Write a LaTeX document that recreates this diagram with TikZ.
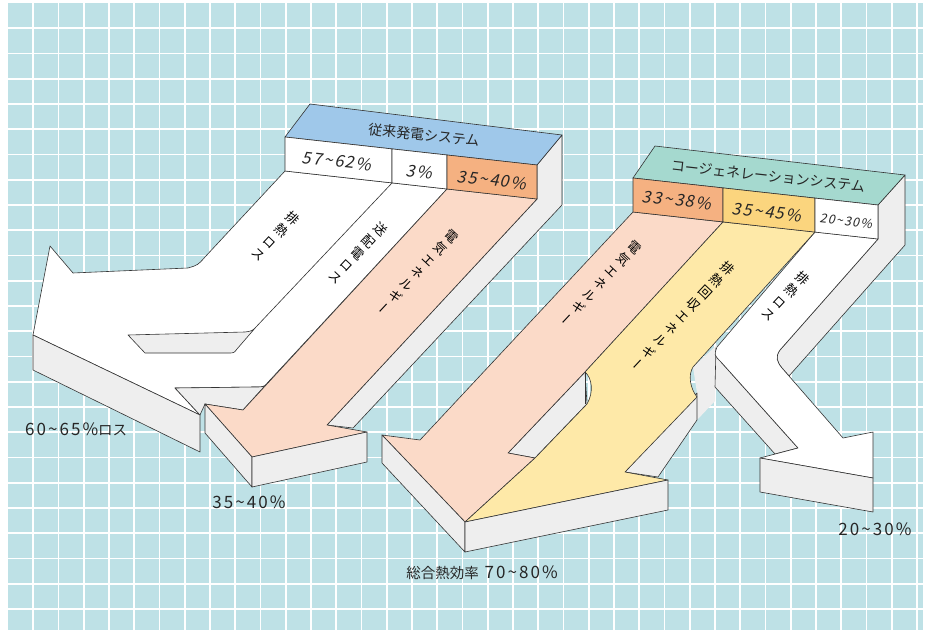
\documentclass[tikz,border=0pt]{standalone}
\usepackage{fontspec}
\setmainfont{Noto Sans CJK JP}
\newfontfamily\jp{Noto Sans CJK JP}
\newfontfamily\jpv[RawFeature=+vert]{Noto Sans CJK JP}
\newfontfamily\jpit[FakeSlant=0.2,LetterSpace=10]{Noto Sans CJK JP}
\newfontfamily\numf[LetterSpace=12]{Noto Sans CJK JP}
\newcommand\cjkpart[1]{{\jp\fontsize{14.5}{14.5}\selectfont #1}}
\definecolor{bg}{HTML}{BEE1E6}
\definecolor{gface}{HTML}{EEEEEE}
\definecolor{peach}{HTML}{FBDAC8}
\definecolor{obox}{HTML}{F5B181}
\definecolor{ystrip}{HTML}{FEE9A8}
\definecolor{ybox}{HTML}{FBD57E}
\definecolor{bluehd}{HTML}{9FC8EA}
\definecolor{tealhd}{HTML}{A5D9CF}
\definecolor{edge}{HTML}{333333}
\tikzset{
  gridline/.style={white,line width=1.6pt},
  face/.style={draw=edge,line width=0.6pt,line join=round},
  grayf/.style={face,fill=gface},
  whitef/.style={face,fill=white},
  peachf/.style={face,fill=peach},
  yellowf/.style={face,fill=ystrip},
  boxlbl/.style={font=\jpit\fontsize{16.5}{16.5}\selectfont,rotate=-6.3,inner sep=0pt,text=black!85},
  title/.style={font=\jp\fontsize{14}{14}\selectfont,rotate=-6.3,inner sep=0pt,text=black!85},
  colm/.style={font=\jpv\fontsize{13}{16.5}\selectfont,align=center,rotate=-43,inner sep=0pt,text=black},
  outl/.style={font=\numf\fontsize{17}{17}\selectfont,inner sep=0pt,text=black!85}
}
\begin{document}
\begin{tikzpicture}[x=1pt,y=-1pt]
\useasboundingbox (0,0) rectangle (927,632);
\fill[white] (0,0) rectangle (927,632);
\fill[bg] (8,3) rectangle (923,630);
\foreach \i in {1,...,36} \draw[gridline] ({8+25.25*\i},3) -- ({8+25.25*\i},630);
\foreach \j in {1,...,24} \draw[gridline] (8,{3+25.25*\j}) -- (923,{3+25.25*\j});

% ---------------- left system ----------------
\filldraw[grayf] (537,165) -- (562,135) -- (562,205) -- (353,428) -- (327,425) -- (537,199) -- cycle;
\filldraw[whitef] (285,171) -- (205,257) .. controls (198,265) .. (188,268) -- (73,273) -- (50,246) -- (33,335) -- (200,415) -- (175,388) -- (255,387) .. controls (265,387) .. (271,379) -- (447,189) -- cycle;
\filldraw[grayf] (175,388) -- (255,387) .. controls (265,387) .. (271,379) -- (243,410) -- (205,404) -- (200,415) -- cycle;
\filldraw[grayf] (33,335) -- (200,415) -- (200,452) -- (33,370) -- cycle;
\filldraw[grayf] (128,335) -- (245,332) .. controls (252,331) .. (256,327) -- (237,349) .. controls (234,353) .. (228,353) -- (145,353) -- cycle;
\draw[face] (392,183) -- (256,327);
\filldraw[peachf] (447,189) -- (537,199) -- (327,425) -- (367,432) -- (252,457) -- (205,404) -- (243,410) -- cycle;
\filldraw[grayf] (205,404) -- (252,457) -- (252,487) -- (205,433) -- cycle;
\filldraw[grayf] (252,457) -- (367,432) -- (367,462) -- (252,487) -- cycle;
% header
\filldraw[face,fill=bluehd] (285,137) -- (310,104) -- (562,135) -- (537,165) -- cycle;
\filldraw[whitef] (285,137) -- (392,148.9) -- (392,182.9) -- (285,171) -- cycle;
\filldraw[whitef] (392,148.9) -- (447,155) -- (447,189) -- (392,182.9) -- cycle;
\filldraw[face,fill=obox] (447,155) -- (537,165) -- (537,199) -- (447,189) -- cycle;
\node[title] (t1) at (424,135) {従来発電システム};
\node[boxlbl] (b1) at (337,161) {57\textasciitilde62\%};
\node[boxlbl] (b2) at (419,172) {3\%};
\node[boxlbl] (b3) at (492,180) {35\textasciitilde40\%};
\node[colm] (s1) at (276,236) {排\\熱\\ロ\\ス};
\node[colm] (s2) at (358,253) {送\\配\\電\\ロ\\ス};
\node[colm] (s3) at (418,272) {電\\気\\エ\\ネ\\ル\\ギ\\ー};

% ---------------- right system ----------------
\filldraw[grayf] (878,205) -- (905,175) -- (905,245) -- (789,376) -- (782,368) .. controls (777,362) and (775,357) .. (780,350) -- (878,239) -- cycle;
\fill[gface] (717,345) -- (693,367) -- (697,393) -- (697,420) -- (715,401) -- (715,387) -- cycle;
\filldraw[grayf] (716,348) -- (715,387) -- (775,454) -- (798,448) -- (721,362) -- cycle;
\filldraw[whitef] (815,232) -- (878,239) -- (780,350) .. controls (775,357) and (777,362) .. (782,368) -- (843,438) -- (873,432) -- (873,478) -- (760,458) -- (798,448) -- (721,362) .. controls (714,355) .. (717,347) -- cycle;
\filldraw[grayf] (760,458) -- (873,478) -- (873,512) -- (760,492) -- cycle;
\filldraw[grayf] (697,393) -- (697,420) -- (658,477) -- (625,472) -- cycle;
\filldraw[grayf] (585,372) -- (587,404) -- (535,458) -- (508,453) -- cycle;
\filldraw[peachf] (633,212) -- (723,222) -- (585,372) -- (508,453) -- (535,458) -- (465,522) -- (382,435) -- (420,440) -- cycle;
\filldraw[yellowf] (723,222) -- (585,372) .. controls (592,378) and (594,392) .. (587,404) -- (535,458) -- (465,522) -- (668,480) -- (625,472) -- (697,397) .. controls (690,388) and (688,375) .. (693,367) -- (815,232) -- cycle;
\draw[face] (585,372) -- (585,404);
\filldraw[grayf] (382,435) -- (465,522) -- (465,552) -- (382,463) -- cycle;
\filldraw[grayf] (465,522) -- (668,480) -- (668,510) -- (465,552) -- cycle;
% header
\filldraw[face,fill=tealhd] (633,178) -- (655,146) -- (905,175) -- (878,205) -- cycle;
\filldraw[face,fill=obox] (633,178) -- (723,187.9) -- (723,221.9) -- (633,212) -- cycle;
\filldraw[face,fill=ybox] (723,187.9) -- (815,198.1) -- (815,232.1) -- (723,221.9) -- cycle;
\filldraw[whitef] (815,198.1) -- (878,205) -- (878,239) -- (815,232.1) -- cycle;
\node[title] (t2) at (768,176) {コージェネレーションシステム};
\node[boxlbl] (b4) at (677,200) {33\textasciitilde38\%};
\node[boxlbl] (b5) at (767,212) {35\textasciitilde45\%};
\node[boxlbl,font=\jpit\fontsize{12.5}{12.5}\selectfont] (b6) at (846,221) {20\textasciitilde30\%};
\node[colm] (s4) at (601,283) {電\\気\\エ\\ネ\\ル\\ギ\\ー};
\node[colm] (s5) at (683,316) {排\\熱\\回\\収\\エ\\ネ\\ル\\ギ\\ー};
\node[colm] (s6) at (786,296) {排\\熱\\ロ\\ス};

% ---------------- outer labels ----------------
\node[outl,anchor=west] (o1) at (25,429) {60\textasciitilde65\%\cjkpart{ロス}};
\node[outl] (o2) at (249,502) {35\textasciitilde40\%};
\node[outl] (o3) at (482,573) {\cjkpart{総合熱効率} 70\textasciitilde80\%};
\node[outl] (o4) at (875,529) {20\textasciitilde30\%};
\end{tikzpicture}
\end{document}
